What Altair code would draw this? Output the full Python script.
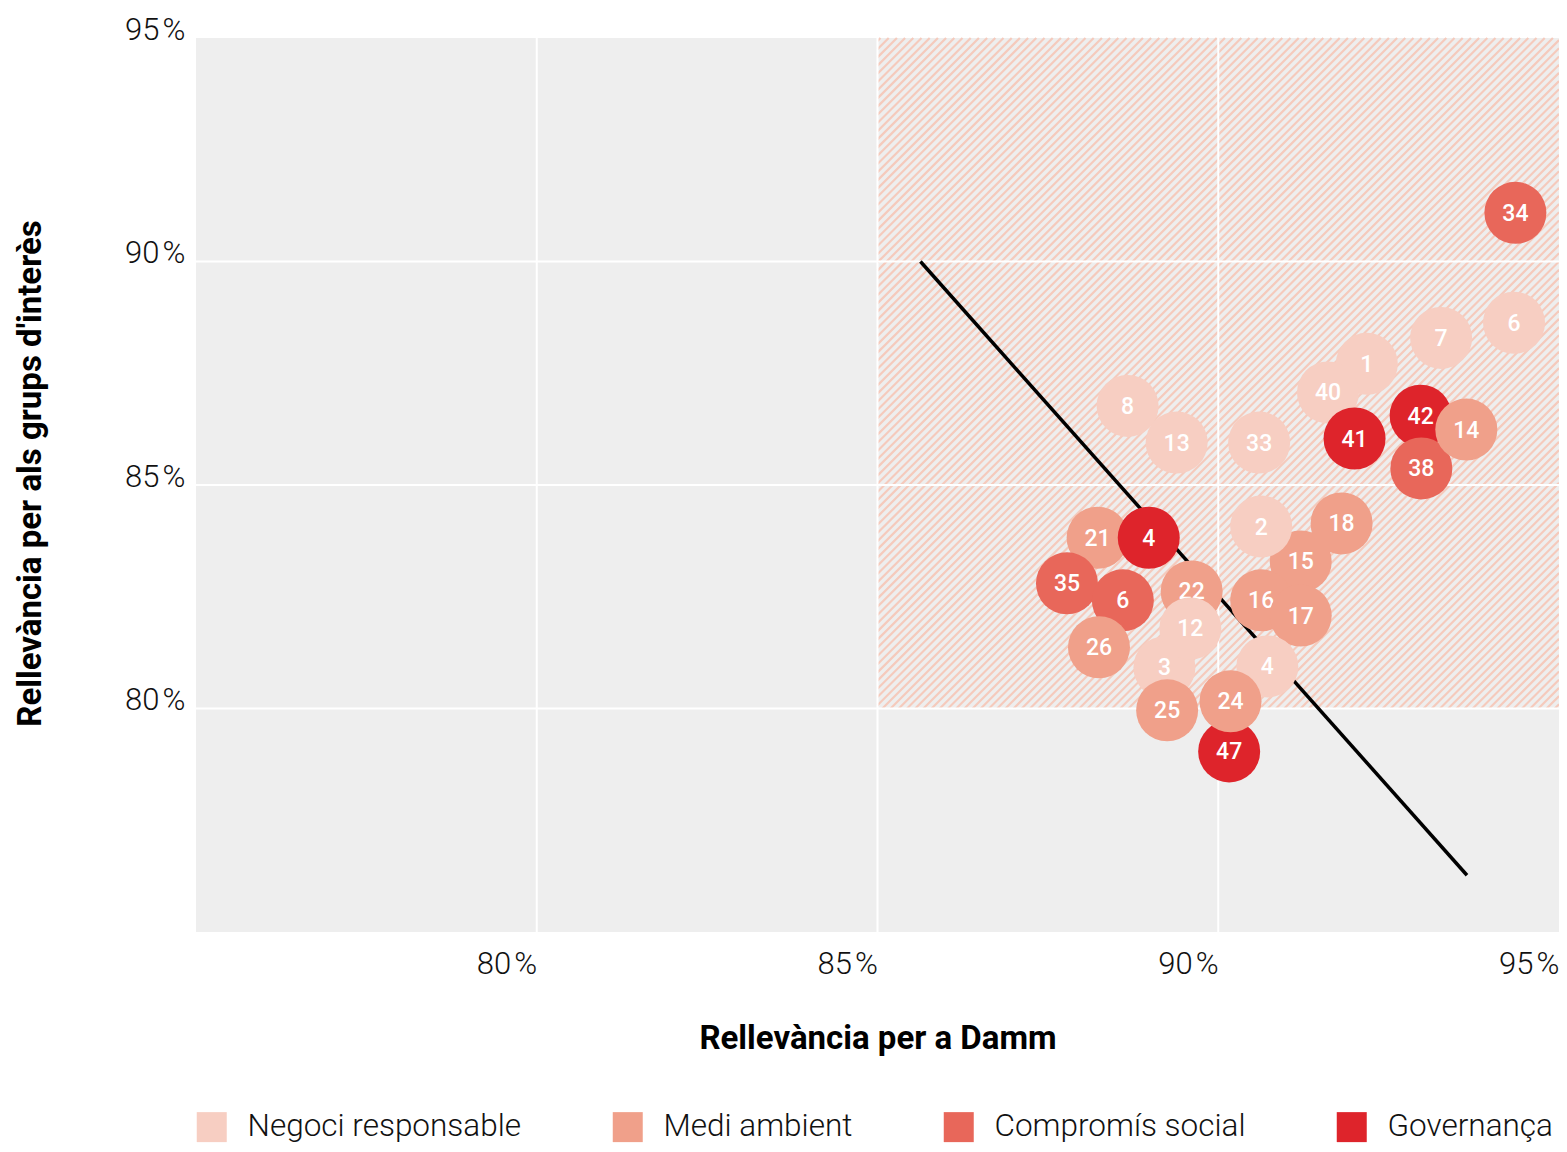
import altair as alt
import pandas as pd
import numpy as np

# ---- data ----
labels = ["34", "6", "7", "1", "40", "41", "42", "38", "14", "8", "13", "33", "15", "18", "2",
          "16", "17", "21", "4", "35", "6", "26", "22", "3", "12", "25", "4", "47", "24"]
damm = [94.36, 94.34, 93.27, 92.18, 91.61, 92.00, 92.97, 92.98, 93.64, 88.67, 89.39, 90.60, 91.21, 91.81, 90.63,
        90.63, 91.21, 88.23, 88.98, 87.78, 88.60, 88.25, 89.61, 89.21, 89.59, 89.25, 90.72, 90.16, 90.18]
grups = [91.09, 88.63, 88.29, 87.71, 87.07, 86.04, 86.55, 85.37, 86.24, 86.77, 85.95, 85.95, 83.29, 84.14, 84.07,
         82.42, 82.08, 83.82, 83.82, 82.80, 82.42, 81.37, 82.62, 80.92, 81.79, 79.96, 80.94, 79.04, 80.16]
N, M, C, G = "Negoci responsable", "Medi ambient", "Compromís social", "Governança"
cats = [C, N, N, N, N, G, G, C, M, N, N, N, M, M, N,
        M, M, M, G, C, C, M, M, N, N, M, N, G, M]

cat_order = [N, M, C, G]
cat_colors = ["#F7CEC2", "#F0A08A", "#E8675A", "#DE242B"]

x_ticks = [80, 85, 90, 95]
y_ticks = [80, 85, 90, 95]
grid_vals = [80, 85, 90]
domain = [75, 95]

# materiality zone (hatched)
zone_x = [85, 95]
zone_y = [80, 95]

# reference diagonal line
diag_x = [85.63, 93.65]
diag_y = [90.0, 76.27]

W, H = 1363, 894

df = pd.DataFrame({"label": labels, "damm": damm, "grups": grups, "cat": cats,
                   "idx": list(range(len(labels)))})

# hatch lines (decoration) computed in pixel space at 45 degrees inside the zone
kx = W / (domain[1] - domain[0])
ky = H / (domain[1] - domain[0])
Wp = (zone_x[1] - zone_x[0]) * kx
Hp = (zone_y[1] - zone_y[0]) * ky
rows = []
for c in np.arange(-Hp + 3, Wp, 8.2):
    xs_ = max(c, 0.0)
    xe_ = min(Wp, Hp + c)
    rows.append({"x": zone_x[0] + xs_ / kx, "y": zone_y[0] + (xs_ - c) / ky,
                 "x2": zone_x[0] + xe_ / kx, "y2": zone_y[0] + (xe_ - c) / ky})
hatch_df = pd.DataFrame(rows)

xs = alt.Scale(domain=domain, nice=False, zero=False)
ys = alt.Scale(domain=domain, nice=False, zero=False)

FONT = "Roboto"
PCT = "datum.value + '\u200a%'"

x_axis = alt.Axis(values=x_ticks, labelExpr=PCT, grid=False, domain=False, ticks=False,
                  labelAlign="right", labelBaseline="top", labelPadding=17, labelOffset=0, labelFont=FONT,
                  labelFontWeight=300, labelFontSize=31, labelColor="#111111", labelFlush=False,
                  title="Rellevància per a Damm", titleFont=FONT, titleFontWeight="bold", titleFontSize=33,
                  titleColor="#000000", titleBaseline="alphabetic", titleY=116)
y_axis = alt.Axis(values=y_ticks, labelExpr=PCT, grid=False, domain=False, ticks=False,
                  labelAlign="right", labelBaseline="alphabetic", labelPadding=11, labelOffset=1, labelFont=FONT,
                  labelFontWeight=300, labelFontSize=31, labelColor="#111111", labelFlush=False,
                  title="Rellevància per als grups d'interès", titleFont=FONT, titleFontWeight="bold",
                  titleFontSize=33, titleColor="#000000", titleBaseline="alphabetic", titleX=-156, titleY=435,
                  titleAngle=270, titleAlign="center")

hatch = alt.Chart(hatch_df).mark_rule(color="#F5CABC", strokeWidth=2.2).encode(
    x=alt.X("x:Q", scale=xs, axis=x_axis),
    y=alt.Y("y:Q", scale=ys, axis=y_axis),
    x2="x2:Q", y2="y2:Q")

gx = alt.Chart(pd.DataFrame({"v": grid_vals})).mark_rule(color="white", strokeWidth=2).encode(
    x=alt.X("v:Q", scale=xs))
gy = alt.Chart(pd.DataFrame({"v": grid_vals})).mark_rule(color="white", strokeWidth=2).encode(
    y=alt.Y("v:Q", scale=ys))

diag = alt.Chart(pd.DataFrame({"x": diag_x, "y": diag_y})).mark_line(color="black", strokeWidth=3.5).encode(
    x=alt.X("x:Q", scale=xs), y=alt.Y("y:Q", scale=ys))

legend = alt.Legend(orient="none", legendX=0, legendY=1073, direction="horizontal",
                    title=None, symbolType="square", symbolSize=900, symbolOpacity=1,
                    symbolStrokeWidth=0, labelFont=FONT, labelFontWeight=300,
                    labelFontSize=31.5, labelColor="#111111", labelOffset=20,
                    columnPadding=90, padding=0, labelLimit=400)
color_scale = alt.Scale(domain=cat_order, range=cat_colors)

base = alt.Chart(df)
layers = [hatch, gx, gy, diag]
# draw each bubble together with its number, so later bubbles cover earlier labels
for i in range(len(labels)):
    sub = base.transform_filter(alt.datum.idx == i)
    circ = sub.mark_circle(size=3844, opacity=1).encode(
        x=alt.X("damm:Q", scale=xs),
        y=alt.Y("grups:Q", scale=ys),
        color=alt.Color("cat:N", scale=color_scale, legend=legend if i == 0 else None))
    txt = sub.mark_text(color="white", font=FONT, fontSize=23, fontWeight=500, baseline="middle", dy=1).encode(
        x=alt.X("damm:Q", scale=xs), y=alt.Y("grups:Q", scale=ys), text="label:N")
    layers += [circ, txt]

chart = alt.layer(*layers).properties(
    width=W, height=H,
    autosize=alt.AutoSizeParams(type="none"),
    padding={"left": 188, "top": 30, "right": 0, "bottom": 211},
).configure_view(fill="#EEEEEE", strokeWidth=0)

chart.save("out.html", embed_options={"renderer": "svg", "actions": False})
